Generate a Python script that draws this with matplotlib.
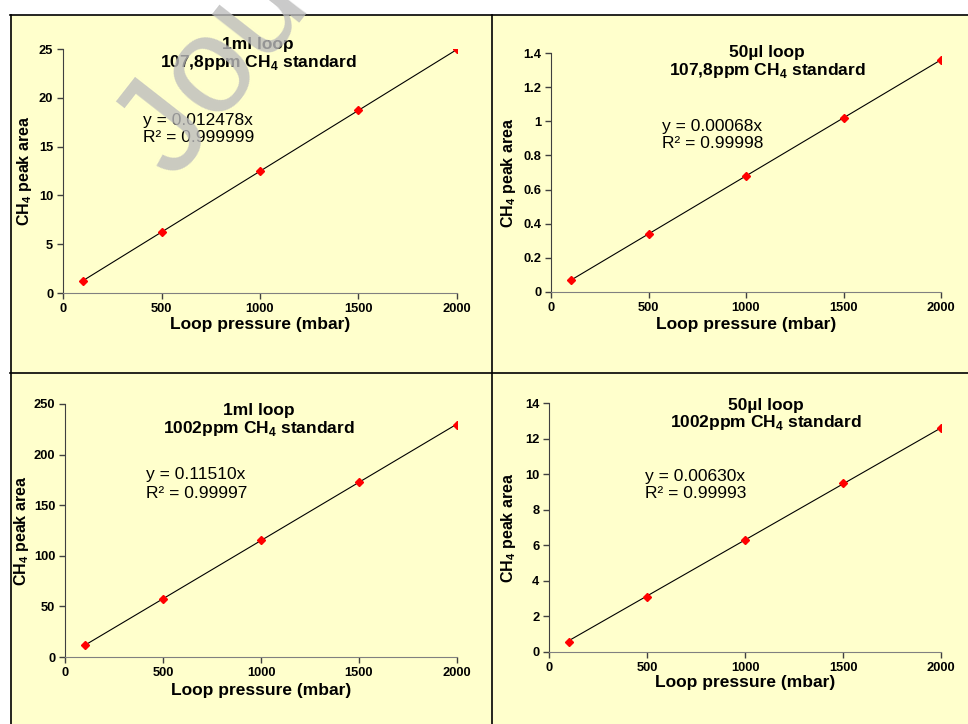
import matplotlib
matplotlib.use("Agg")
import matplotlib.pyplot as plt
from matplotlib.lines import Line2D
from matplotlib.patches import Rectangle
from matplotlib.ticker import FuncFormatter, MultipleLocator

plt.rcParams['font.family'] = ['Liberation Sans', 'DejaVu Sans']
plt.rcParams['mathtext.fontset'] = 'custom'
plt.rcParams['mathtext.rm'] = 'Liberation Sans'
plt.rcParams['mathtext.bf'] = 'Liberation Sans:bold'

# data
pressure = [100, 500, 1000, 1500, 2000]
area_1ml_108 = [1.25, 6.24, 12.48, 18.72, 24.95]
area_50ul_108 = [0.07, 0.34, 0.68, 1.02, 1.36]
area_1ml_1002 = [11.5, 57.5, 115.5, 172.8, 229.5]
area_50ul_1002 = [0.58, 3.12, 6.28, 9.48, 12.6]

loop_names = ["1ml loop", "50µl loop", "1ml loop", "50µl loop"]
standards = ["107,8ppm", "107,8ppm", "1002ppm", "1002ppm"]
slopes = [0.012478, 0.00068, 0.11510, 0.00630]
slope_text = ["0.012478", "0.00068", "0.11510", "0.00630"]
r2_text = ["0.999999", "0.99998", "0.99997", "0.99993"]
y_max = [25, 1.4, 250, 14]
y_step = [5, 0.2, 50, 2]

W, H = 968, 724


def fx(x):
    return x / W


def fy(y):
    return 1 - y / H


fig = plt.figure(figsize=(W / 100, H / 100), dpi=100)
fig.patch.set_facecolor('white')

# yellow table background + cell borders
fig.patches.append(Rectangle((fx(10), 0), 1 - fx(10), fy(15), transform=fig.transFigure,
                             facecolor='#ffffcc', edgecolor='none', zorder=-5))
for xs, ys in [([10, W], [15, 15]), ([10, W], [373, 373]),
               ([10.5, 10.5], [15, H]), ([492.5, 492.5], [15, H])]:
    fig.lines.append(Line2D([fx(v) for v in xs], [fy(v) for v in ys],
                            transform=fig.transFigure, color='black', lw=1.2, zorder=-4))

# axes boxes in pixels: left, right, top, bottom
boxes = [(63, 457, 49, 293), (551, 941, 53, 292), (65, 457, 404, 657), (549, 941, 403, 652)]
title_y = [(44, 63), (52, 70), (410, 428), (406, 423)]
eq_pos = [(143, 121, 138), (662, 127, 144), (146, 475, 493), (645, 476, 494)]
ylab_x = [25, 508, 22, 509]
xlab_y = [325, 325, 690, 683]
series = [area_1ml_108, area_50ul_108, area_1ml_1002, area_50ul_1002]

for i in range(4):
    l, r, t, b = boxes[i]
    ax = fig.add_axes([fx(l), fy(b), (r - l) / W, (b - t) / H])
    ax.patch.set_visible(False)
    ax.set_xlim(0, 2000)
    ax.set_ylim(0, y_max[i])
    ax.xaxis.set_major_locator(MultipleLocator(500))
    ax.yaxis.set_major_locator(MultipleLocator(y_step[i]))
    ax.yaxis.set_major_formatter(FuncFormatter(lambda v, p: '{:g}'.format(round(v, 6))))
    for s in ['top', 'right']:
        ax.spines[s].set_visible(False)
    ax.spines['left'].set_color('#404040')
    ax.spines['bottom'].set_color('#808080')
    ax.tick_params(direction='out', length=4, width=1, labelsize=9.3, pad=3, colors='#404040',
                   labelcolor='black')
    for lab in ax.get_xticklabels() + ax.get_yticklabels():
        lab.set_fontweight('bold')

    xs = [pressure[0], pressure[-1]]
    ax.plot(xs, [slopes[i] * v for v in xs], color='black', lw=0.8, zorder=2)
    ax.plot(pressure, series[i], ls='none', marker='D', ms=4, color='red', mec='red', zorder=3)

    cx = (l + r) / 2 + (i % 2) * 23 - 2
    fig.text(fx(cx), fy(title_y[i][0]), loop_names[i], ha='center', va='center',
             fontsize=12.5, fontweight='bold')
    fig.text(fx(cx), fy(title_y[i][1]), standards[i] + r" CH$_\mathbf{4}$ standard",
             ha='center', va='center', fontsize=12.5, fontweight='bold')

    ex, ey1, ey2 = eq_pos[i]
    fig.text(fx(ex), fy(ey1), "y = " + slope_text[i] + "x", ha='left', va='center', fontsize=12.5)
    fig.text(fx(ex), fy(ey2), "R² = " + r2_text[i], ha='left', va='center', fontsize=12.5)

    fig.text(fx((l + r) / 2), fy(xlab_y[i]), "Loop pressure (mbar)", ha='center', va='center',
             fontsize=12.5, fontweight='bold')
    fig.text(fx(ylab_x[i]), fy((t + b) / 2), r"CH$_\mathbf{4}$ peak area", ha='center', va='center',
             rotation=90, fontsize=11.5, fontweight='bold')

# watermark
fig.text(fx(175), fy(182), "Journal Pre-proof", rotation=52, fontsize=100, color='#bdbdbd',
         alpha=0.8, ha='left', va='baseline', rotation_mode='anchor', zorder=10)

fig.savefig('out.png', dpi=100)
